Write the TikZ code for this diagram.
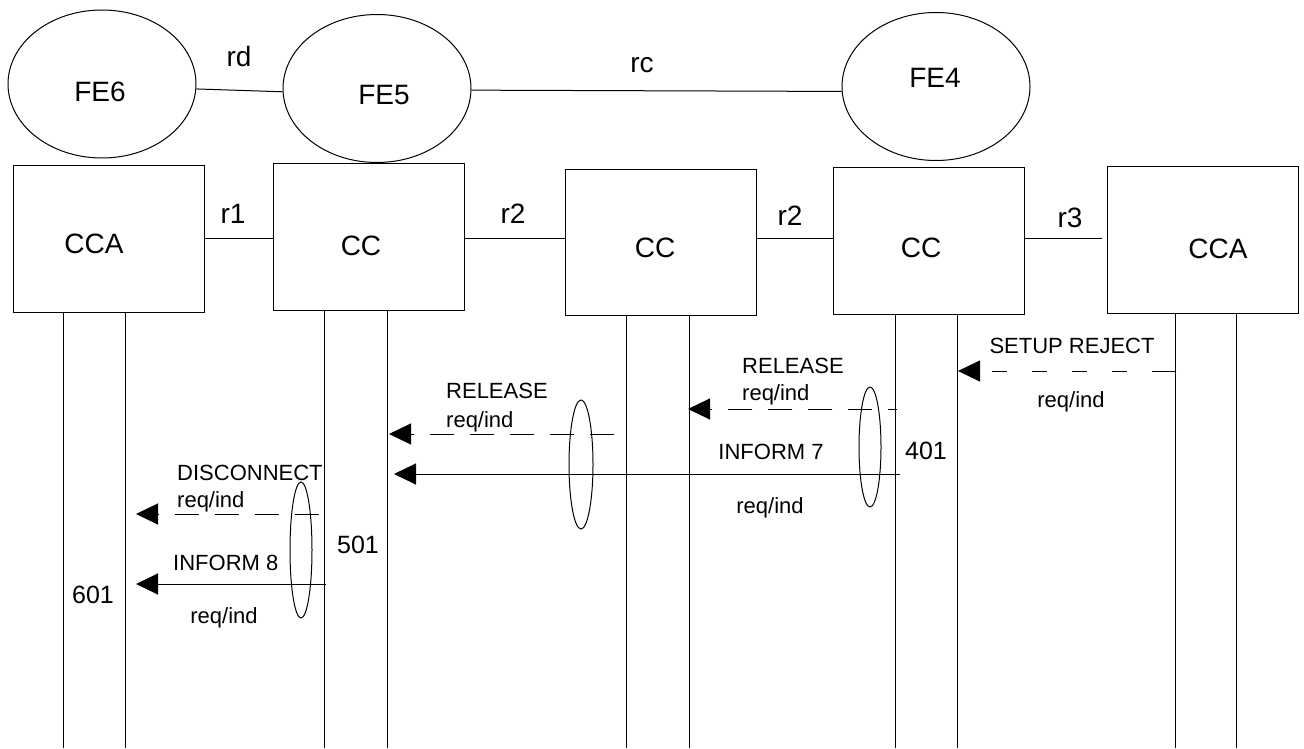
\documentclass[tikz,border=0pt]{standalone}
\usepackage{fontspec}
\setmainfont{Liberation Sans}
\usetikzlibrary{shapes.geometric,arrows.meta}
\begin{document}
\begin{tikzpicture}[x=1pt,y=-1pt,
  fe/.style={draw,ellipse,line width=1pt,minimum width=188pt,minimum height=148pt,inner sep=0pt},
  box/.style={draw,rectangle,line width=1pt,minimum width=191pt,minimum height=146pt,inner sep=0pt},
  big/.style={font=\fontsize{28}{32}\selectfont,inner sep=0pt},
  small/.style={font=\fontsize{22}{26}\selectfont,inner sep=0pt},
  num/.style={font=\fontsize{25}{30}\selectfont,inner sep=0pt},
  ln/.style={line width=1pt},
  msgd/.style={line width=1pt,dash pattern=on 24pt off 16pt,-{Triangle[length=22pt,width=21pt]}},
  msgs/.style={line width=1pt,-{Triangle[length=22pt,width=21pt]}},
  oval/.style={draw,ellipse,line width=1pt,inner sep=0pt}]
\fill[white] (0,0) rectangle (1304,749);
\useasboundingbox (0,0) rectangle (1304,749);

% functional entities
\node[fe] (FE6) at (102,84) {};
\node[fe] (FE5) at (377,88.5) {};
\node[fe] (FE4) at (936,86.5) {};
\node[big,anchor=base] (tFE6) at (100,102) {FE6};
\node[big,anchor=base] (tFE5) at (384,105) {FE5};
\node[big,anchor=base] (tFE4) at (935,88) {FE4};
\draw[ln] (FE6.-3) -- (FE5.182);
\draw[ln] (FE5.-1) -- (FE4.183);
\node[big,anchor=base] (rd) at (239,67) {rd};
\node[big,anchor=base] (rc) at (642,73) {rc};

% boxes
\node[box] (b1) at (108.5,239) {};
\node[box] (b2) at (368.5,237) {};
\node[box] (b3) at (660.5,242.5) {};
\node[box] (b4) at (928.5,241) {};
\node[box] (b5) at (1202.5,240) {};
\node[big,anchor=base] (t1) at (94,253) {CCA};
\node[big,anchor=base] (t2) at (361,255) {CC};
\node[big,anchor=base] (t3) at (655,257) {CC};
\node[big,anchor=base] (t4) at (921,257) {CC};
\node[big,anchor=base] (t5) at (1218,258) {CCA};

\coordinate (ly) at (0,238);
\coordinate (r3end) at (1102,238);
\draw[ln] (b1.east |- ly) -- (b2.west |- ly);
\draw[ln] (b2.east |- ly) -- (b3.west |- ly);
\draw[ln] (b3.east |- ly) -- (b4.west |- ly);
\draw[ln] (b4.east |- ly) -- (r3end);
\node[big,anchor=base] (r1) at (233,223) {r1};
\node[big,anchor=base] (r2a) at (513,223) {r2};
\node[big,anchor=base] (r2b) at (790,225) {r2};
\node[big,anchor=base] (r3) at (1070,227) {r3};

% lifelines
\coordinate (bot) at (0,748);
\coordinate (l1a) at ([xshift=51pt]b1.south west);
\coordinate (l1b) at ([xshift=113pt]b1.south west);
\coordinate (l2a) at ([xshift=52pt]b2.south west);
\coordinate (l2b) at ([xshift=115pt]b2.south west);
\coordinate (l3a) at ([xshift=62pt]b3.south west);
\coordinate (l3b) at ([xshift=125pt]b3.south west);
\coordinate (l4a) at ([xshift=63pt]b4.south west);
\coordinate (l4b) at ([xshift=125pt]b4.south west);
\coordinate (l5a) at ([xshift=69pt]b5.south west);
\coordinate (l5b) at ([xshift=130pt]b5.south west);
\foreach \l in {l1a,l1b,l2a,l2b,l3a,l3b,l4a,l4b,l5a,l5b}
  \draw[ln] (\l) -- (\l |- bot);

% correlation ovals
\node[oval,minimum width=24pt,minimum height=129pt] (e1) at (581,464.5) {};
\node[oval,minimum width=22pt,minimum height=120pt] (e2) at (870,447) {};
\node[oval,minimum width=22pt,minimum height=136pt] (e3) at (301,550) {};

% messages
\draw[msgd,dash pattern=on 15pt off 25pt,dash phase=31pt] (1176,371) -- (958,371);
\draw[ln] (1176,371) -- (1152,371);
\node[small,anchor=base] (m1) at (1072,353) {SETUP REJECT};
\node[small,anchor=base] (m1b) at (1071,407) {req/ind};

\draw[msgd,dash phase=15pt] (897,409) -- (688,409);
\node[small,anchor=base west] (m2) at (742,373) {RELEASE};
\node[small,anchor=base west] (m2b) at (742,400) {req/ind};

\draw[msgd] (614,434) -- (389,434);
\node[small,anchor=base west] (m3) at (446,398) {RELEASE};
\node[small,anchor=base west] (m3b) at (446,427) {req/ind};

\draw[msgs] (900,474) -- (394,474);
\node[small,anchor=base] (m4) at (771,459) {INFORM 7};
\node[small,anchor=base] (m4b) at (770,513) {req/ind};
\node[num,anchor=base] (n401) at (926,459) {401};

\draw[msgd] (319,514) -- (136,514);
\node[small,anchor=base west] (m5) at (177,480) {DISCONNECT};
\node[small,anchor=base west] (m5b) at (177,507) {req/ind};
\node[num,anchor=base] (n501) at (358,553) {501};

\draw[msgs] (326,584) -- (136,584);
\node[small,anchor=base west] (m6) at (173,570) {INFORM 8};
\node[small,anchor=base] (m6b) at (224,623) {req/ind};
\node[num,anchor=base] (n601) at (93,603) {601};
\end{tikzpicture}
\end{document}
